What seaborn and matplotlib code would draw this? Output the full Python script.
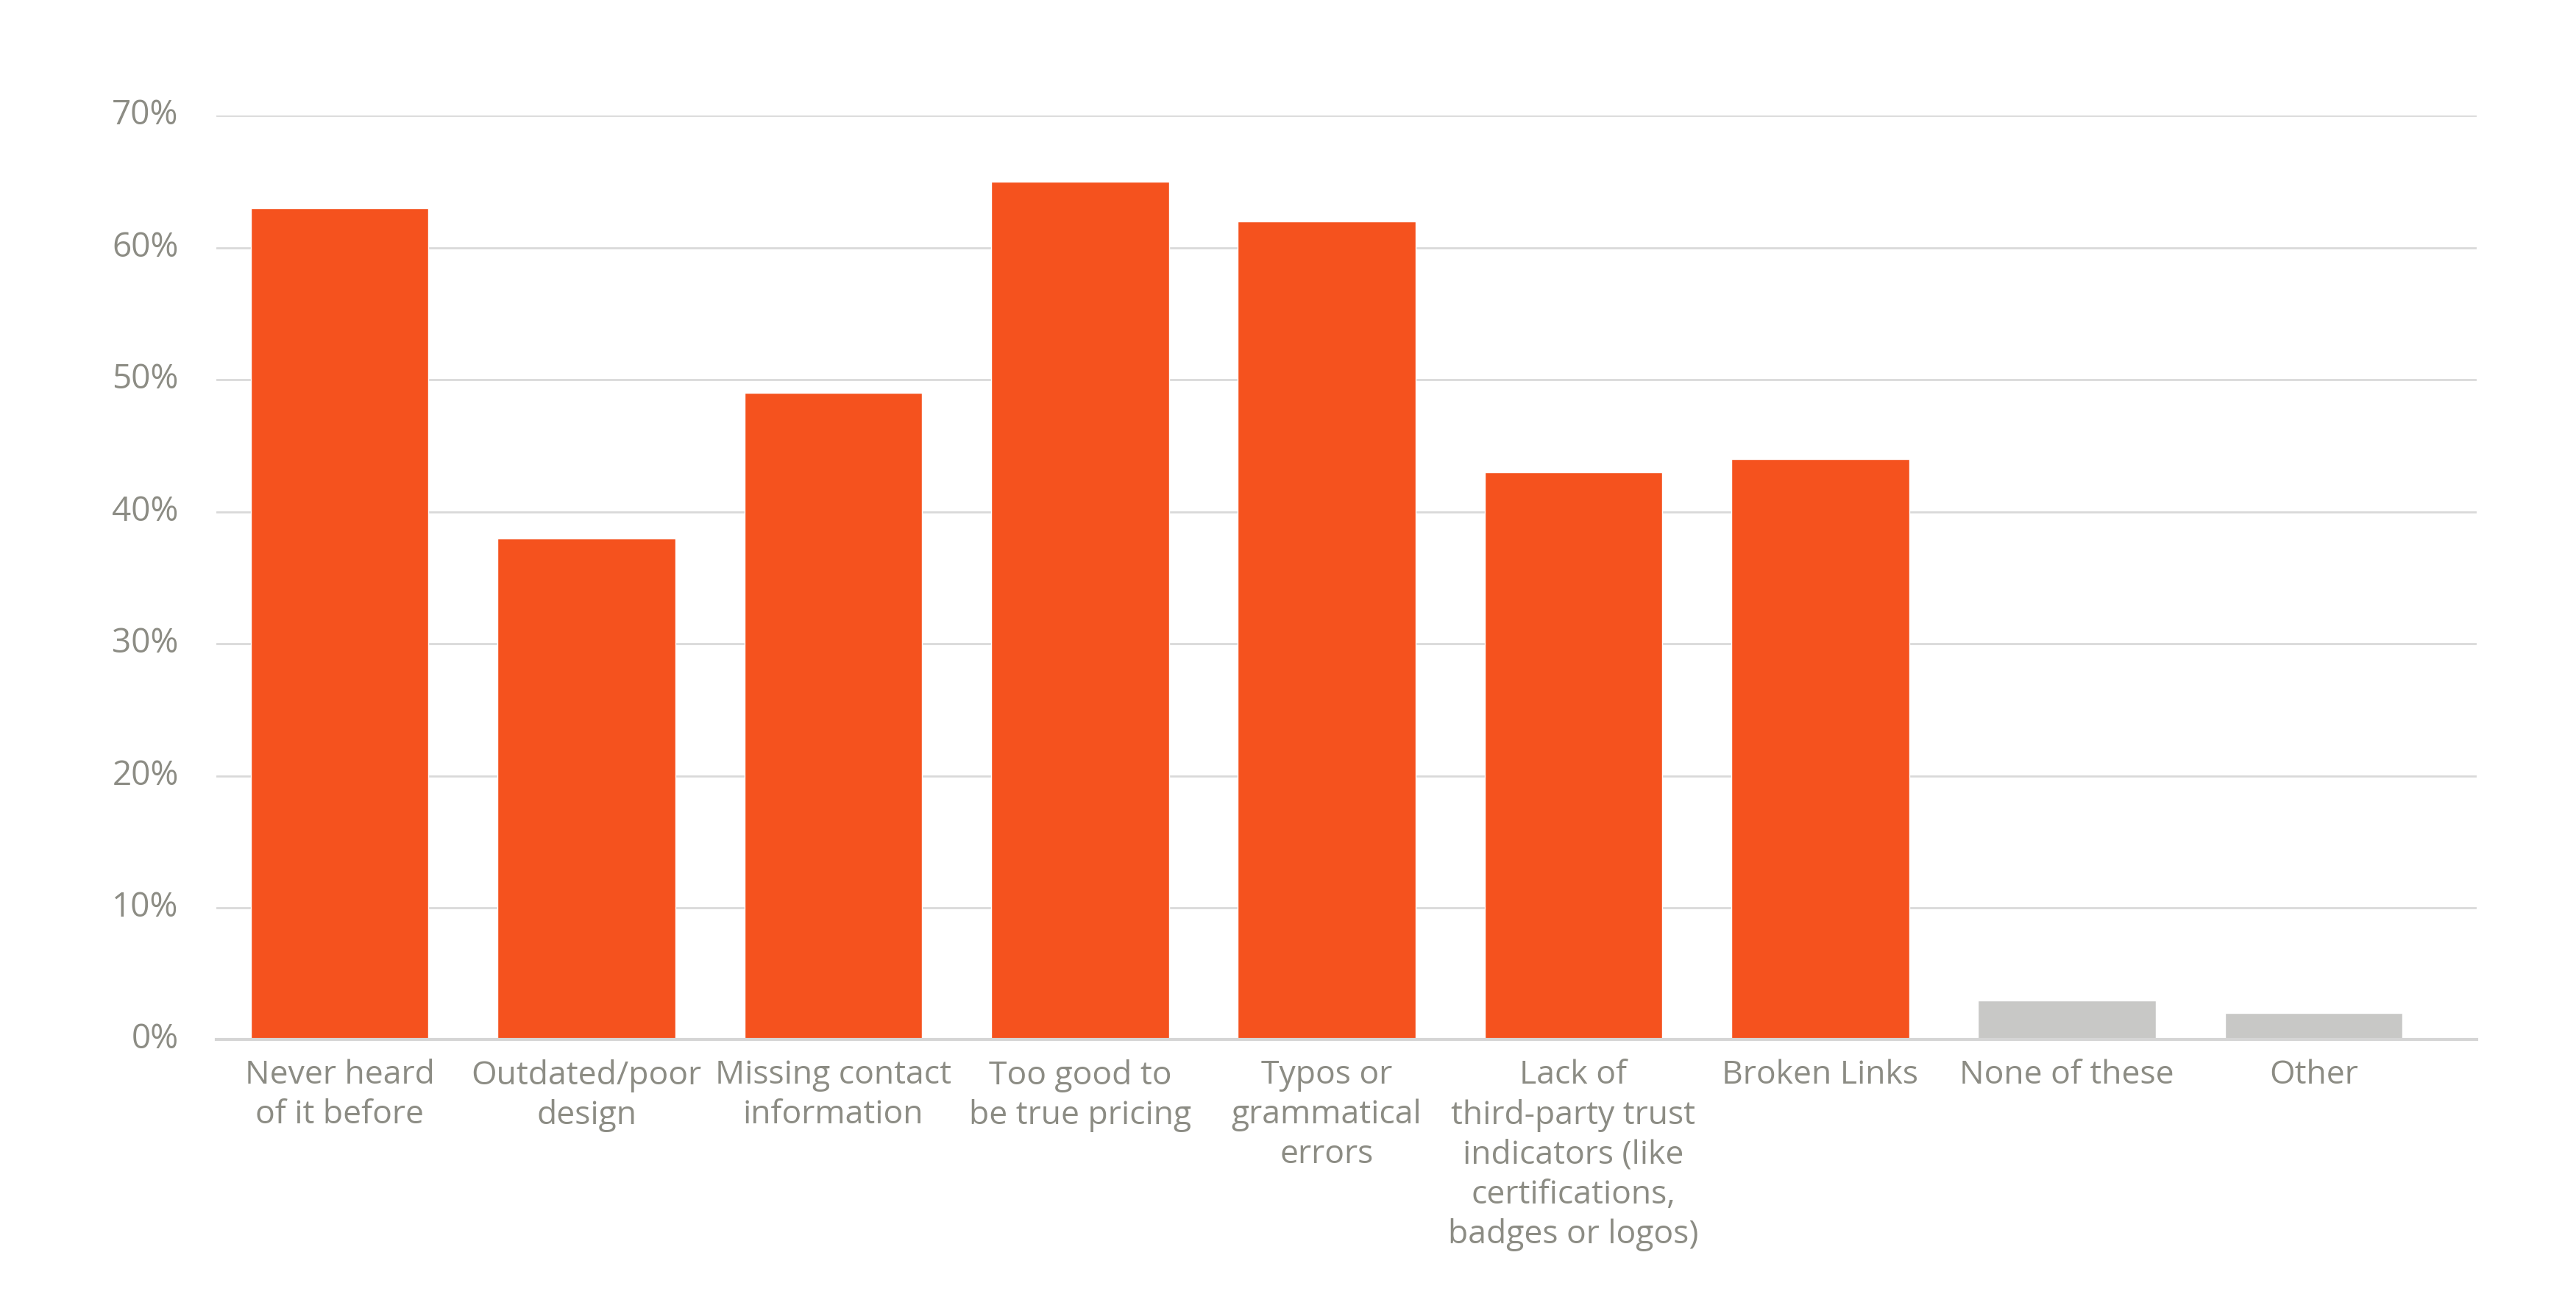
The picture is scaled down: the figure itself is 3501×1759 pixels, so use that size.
import matplotlib
matplotlib.use("Agg")
import matplotlib.pyplot as plt
import seaborn as sns
import pandas as pd
from matplotlib.ticker import FuncFormatter

categories = ["Never heard\nof it before", "Outdated/poor\ndesign", "Missing contact\ninformation",
              "Too good to\nbe true pricing", "Typos or\ngrammatical\nerrors",
              "Lack of\nthird-party trust\nindicators (like\ncertifications,\nbadges or logos)",
              "Broken Links", "None of these", "Other"]
values = [63, 38, 49, 65, 62, 43, 44, 3, 2]
bar_colors = ["#F5521E"] * 7 + ["#C8C8C6"] * 2
yticks = [0, 10, 20, 30, 40, 50, 60, 70]

sns.set_theme(style="white")
plt.rcParams['font.family'] = ['Open Sans', 'DejaVu Sans']

df = pd.DataFrame({"cat": categories, "val": values})

fig = plt.figure(figsize=(35.01, 17.59), dpi=100)
ax = fig.add_axes([0.084, 0.1965, 0.8774, 0.714])
sns.barplot(data=df, x="cat", y="val", hue="cat", palette=bar_colors, legend=False,
            width=0.72, saturation=1, ax=ax, zorder=3)

ax.set_xlim(-0.5, 8.66)
ax.set_ylim(0, 70)
ax.set_yticks(yticks)
ax.yaxis.set_major_formatter(FuncFormatter(lambda v, p: f"{int(v)}%"))
ax.grid(axis="y", color="#D9D9D9", linewidth=2, zorder=0)
ax.set_axisbelow(True)
for s in ["top", "right", "left"]:
    ax.spines[s].set_visible(False)
ax.spines["bottom"].set_color("#D5D5D5")
ax.spines["bottom"].set_linewidth(3)
ax.spines["bottom"].set_zorder(4)
ax.set_xlabel("")
ax.set_ylabel("")
ax.tick_params(axis="both", length=0, labelcolor="#8C8C84")
ax.tick_params(axis="x", pad=19, labelsize=32)
ax.tick_params(axis="y", pad=37, labelsize=33)
for lab in ax.get_xticklabels():
    lab.set_linespacing(1.28)
for lab in ax.get_yticklabels():
    lab.set_verticalalignment("center")

fig.savefig("out.png", dpi=100, facecolor="white")
